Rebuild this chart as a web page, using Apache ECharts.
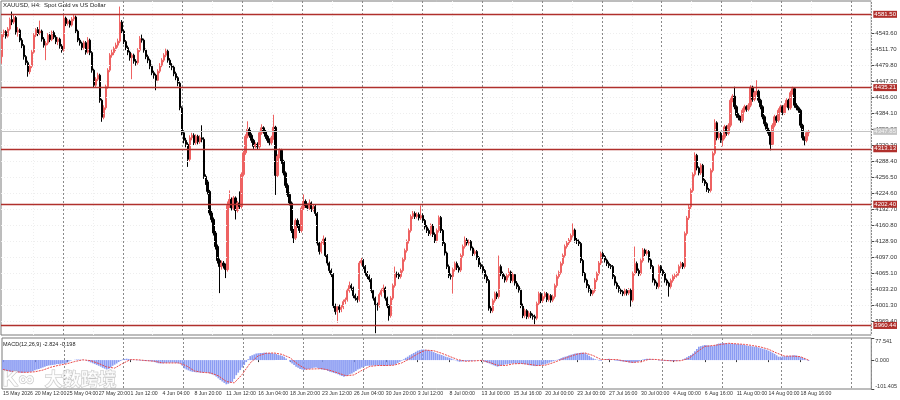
<!DOCTYPE html>
<html>
<head>
<meta charset="utf-8">
<title>XAUUSD H4</title>
<script src="https://cdn.jsdelivr.net/npm/echarts@6.0.0/dist/echarts.min.js"></script>
<style>html,body{margin:0;padding:0;background:#fff}#main{width:900px;height:400px}</style>
</head>
<body>
<div id="main"></div>
<script>
// right axis price labels
var priceTicks = [3969.4, 4001.3, 4033.2, 4065.1, 4097.0, 4128.9, 4160.8, 4192.7, 4224.6, 4256.5,
    4288.4, 4320.3, 4352.2, 4384.1, 4416.0, 4447.9, 4479.8, 4511.7, 4543.6];
// horizontal levels drawn in red
var levelLines = [4581.50, 4435.21, 4313.13, 4202.40, 3960.44];
var lastPrice = 4347.85;
var macdTicks = [-101.405, 0, 77.541];
// one time label every 16 bars
var timeLabels = ['15 May 2026', '20 May 12:00', '25 May 04:00', '27 May 20:00', '1 Jun 12:00', '4 Jun 04:00',
    '8 Jun 20:00', '11 Jun 12:00', '16 Jun 04:00', '18 Jun 20:00', '23 Jun 12:00', '26 Jun 04:00',
    '30 Jun 20:00', '3 Jul 12:00', '8 Jul 00:00', '13 Jul 00:00', '15 Jul 16:00', '20 Jul 00:00',
    '23 Jul 00:00', '27 Jul 16:00', '30 Jul 00:00', '4 Aug 00:00', '6 Aug 16:00', '11 Aug 00:00',
    '14 Aug 00:00', '18 Aug 16:00'];
// bar index where a new week starts (period separators)
var weekStarts = [31, 61, 91, 121, 151, 181, 211, 241, 271, 301, 331, 361, 391, 426];
var faintCols = [16, 46, 76, 106, 136, 166, 196, 226, 256, 286, 316, 346, 376, 406];

// candles: [open, close, low, high]
var bars1 = [
[4497,4541,4483,4546],[4541,4547,4536,4551],[4547,4538,4533,4550],[4538,4552,4535,4556],[4552,4571,4549,4575],
[4571,4566,4560,4587],[4566,4575,4562,4580],[4575,4546,4541,4578],[4546,4550,4537,4556],[4550,4530,4526,4553],
[4530,4519,4514,4534],[4519,4497,4491,4522],[4497,4485,4480,4500],[4485,4467,4457,4489],[4467,4478,4462,4481],
[4478,4506,4474,4510],[4506,4540,4503,4544],[4540,4551,4536,4554],[4551,4543,4538,4556],[4543,4548,4540,4569],
[4548,4532,4527,4551],[4532,4520,4515,4536],[4520,4524,4490,4528],[4524,4540,4520,4544],[4540,4531,4526,4545],
[4531,4545,4528,4549],[4545,4536,4532,4549],[4536,4527,4522,4540],[4527,4532,4520,4536],[4532,4518,4513,4535],
[4518,4510,4505,4522],[4510,4574,4507,4580],[4574,4563,4558,4577],[4563,4568,4559,4572],[4568,4560,4555,4571],
[4560,4572,4557,4576],[4572,4576,4568,4581],[4576,4548,4544,4579],[4548,4530,4526,4551],[4530,4524,4519,4534],
[4524,4515,4510,4527],[4515,4525,4511,4529],[4525,4506,4501,4528],[4506,4530,4503,4536],[4530,4505,4500,4533],
[4505,4470,4465,4508],[4470,4440,4436,4473],[4440,4452,4436,4456],[4452,4460,4447,4465],[4460,4410,4405,4463],
[4410,4376,4367,4413],[4376,4395,4372,4400],[4395,4437,4391,4441],[4437,4470,4433,4474],[4470,4500,4466,4504],
[4500,4505,4495,4511],[4505,4513,4500,4517],[4513,4520,4508,4525],[4520,4528,4515,4533],[4528,4566,4524,4597],
[4566,4548,4543,4570],[4548,4527,4522,4551],[4527,4515,4510,4530],[4515,4506,4500,4519],[4506,4495,4489,4509],
[4495,4500,4452,4504],[4500,4488,4483,4503],[4488,4485,4479,4492],[4485,4510,4481,4514],[4510,4533,4506,4538],
[4533,4530,4525,4541],[4530,4510,4505,4533],[4510,4497,4492,4513],[4497,4490,4484,4501],[4490,4478,4472,4493],
[4478,4465,4460,4481],[4465,4460,4453,4469],[4460,4450,4430,4463],[4450,4468,4446,4472],[4468,4480,4464,4484],
[4480,4490,4476,4494],[4490,4500,4486,4504],[4500,4508,4496,4513],[4508,4490,4485,4511],[4490,4480,4475,4494],
[4480,4476,4470,4484],[4476,4463,4458,4479],[4463,4455,4450,4467],[4455,4444,4438,4458],[4444,4395,4390,4447],
[4395,4345,4340,4398],[4345,4330,4324,4350],[4330,4322,4316,4335],[4322,4292,4277,4326],[4292,4335,4288,4340],
[4335,4340,4330,4345],[4340,4325,4320,4344],[4325,4338,4321,4342],[4338,4327,4322,4341],[4327,4335,4323,4340]
];
var bars2 = [
[4335,4332,4326,4360],[4332,4258,4253,4336],[4258,4247,4241,4262],[4247,4228,4222,4251],[4228,4185,4180,4231],
[4185,4172,4166,4189],[4172,4145,4140,4176],[4145,4118,4112,4149],[4118,4090,4084,4122],[4090,4078,4025,4094],
[4078,4085,4072,4090],[4085,4080,4074,4089],[4080,4072,4055,4084],[4072,4200,4068,4208],[4200,4212,4195,4230],
[4212,4195,4190,4216],[4195,4215,4191,4219],[4215,4190,4172,4218],[4190,4205,4186,4209],[4205,4198,4193,4228],
[4198,4262,4194,4266],[4262,4305,4258,4309],[4305,4338,4301,4342],[4338,4352,4334,4368],[4352,4340,4335,4356],
[4340,4330,4325,4344],[4330,4318,4313,4333],[4318,4322,4314,4326],[4322,4317,4312,4326],[4317,4345,4313,4349],
[4345,4355,4341,4362],[4355,4348,4343,4358],[4348,4338,4333,4351],[4338,4330,4325,4341],[4330,4325,4320,4334],
[4325,4335,4321,4339],[4335,4356,4331,4381],[4356,4260,4221,4359],[4260,4298,4256,4302],[4298,4310,4294,4314],
[4310,4288,4283,4313],[4288,4265,4260,4291],[4265,4240,4235,4268],[4240,4222,4217,4244],[4222,4205,4200,4226],
[4205,4150,4145,4208],[4150,4135,4125,4153],[4135,4170,4131,4174],[4170,4160,4155,4174],[4160,4150,4145,4163],
[4150,4195,4146,4199],[4195,4208,4191,4222],[4208,4200,4195,4212],[4200,4195,4190,4204],[4195,4205,4191,4212],
[4205,4192,4187,4208],[4192,4198,4188,4202],[4198,4184,4179,4201],[4184,4125,4120,4187],[4125,4108,4102,4128],
[4108,4125,4104,4129],[4125,4133,4121,4140],[4133,4100,4095,4136],[4100,4085,4080,4103],[4085,4070,4065,4088],
[4070,4062,4057,4074],[4062,4000,3995,4065],[4000,3988,3982,4004],[3988,3998,3966,4002],[3998,3992,3986,4002],
[3992,3997,3987,4001],[3997,4008,3993,4012],[4008,4012,4003,4016],[4012,4030,4008,4034],[4030,4040,4026,4048],
[4040,4035,4030,4044],[4035,4020,4015,4038],[4020,4015,4010,4024],[4015,4012,4006,4019],[4012,4085,4008,4089],
[4085,4090,4080,4096],[4090,4078,4073,4093],[4078,4065,4060,4081],[4065,4058,4053,4069],[4058,4052,4047,4062],
[4052,4030,4025,4055],[4030,4015,4010,4033],[4015,4002,3945,4018],[4002,4000,3990,4006],[4000,4022,3996,4026],
[4022,4030,4018,4034],[4030,4035,4026,4042],[4035,4015,4010,4038],[4015,4000,3995,4018],[4000,3980,3970,4003],
[3980,4015,3976,4019],[4015,4040,4011,4044],[4040,4064,4036,4078],[4064,4062,4056,4068],[4062,4058,4053,4066]
];
var bars3 = [
[4058,4070,4054,4074],[4070,4092,4066,4096],[4092,4110,4088,4114],[4110,4128,4106,4132],[4128,4150,4124,4154],
[4150,4178,4146,4182],[4178,4184,4173,4189],[4184,4178,4173,4188],[4178,4182,4174,4186],[4182,4175,4170,4186],
[4175,4180,4171,4200],[4180,4170,4165,4184],[4170,4157,4152,4173],[4157,4150,4145,4161],[4150,4144,4139,4154],
[4144,4160,4140,4164],[4160,4142,4137,4163],[4142,4130,4125,4146],[4130,4150,4126,4154],[4150,4176,4146,4180],
[4176,4150,4145,4179],[4150,4124,4119,4153],[4124,4105,4100,4127],[4105,4078,4073,4108],[4078,4060,4055,4082],
[4060,4058,4052,4064],[4058,4072,4024,4076],[4072,4084,4068,4088],[4084,4076,4071,4088],[4076,4071,4066,4080],
[4071,4100,4067,4104],[4100,4118,4096,4122],[4118,4131,4114,4138],[4131,4125,4120,4135],[4125,4128,4120,4132],
[4128,4115,4110,4131],[4115,4104,4099,4118],[4104,4108,4100,4112],[4108,4096,4091,4111],[4096,4082,4077,4099],
[4082,4078,4073,4086],[4078,4070,4065,4082],[4070,4058,4053,4073],[4058,4050,4045,4062],[4050,3995,3990,4053],
[3995,3990,3985,3999],[3990,4010,3986,4014],[4010,4024,4006,4028],[4024,4018,4013,4028],[4018,4078,4014,4100],
[4078,4064,4059,4082],[4064,4058,4053,4068],[4058,4051,4046,4062],[4051,4060,4047,4064],[4060,4067,4056,4075],
[4067,4050,4045,4070],[4050,4062,4046,4066],[4062,4045,4040,4065],[4045,4038,4033,4049],[4038,4031,4026,4042],
[4031,4000,3995,4034],[4000,3980,3975,4004],[3980,3990,3976,3994],[3990,3978,3973,3993],[3978,3985,3974,3989],
[3985,3980,3975,3989],[3980,3978,3972,3984],[3978,3975,3963,3982],[3975,4004,3971,4008],[4004,4024,4000,4028],
[4024,4010,4005,4027],[4010,4018,4006,4022],[4018,4024,4014,4028],[4024,4012,4007,4027],[4012,4020,4008,4024],
[4020,4011,4006,4023],[4011,4018,4007,4022],[4018,4040,4014,4044],[4040,4058,4036,4062],[4058,4066,4054,4070],
[4066,4084,4062,4088],[4084,4100,4080,4104],[4100,4118,4096,4122],[4118,4125,4114,4129],[4125,4131,4121,4135],
[4131,4140,4127,4144],[4140,4151,4136,4164],[4151,4131,4126,4154],[4131,4128,4123,4135],[4128,4124,4119,4132],
[4124,4090,4085,4127],[4090,4064,4059,4093],[4064,4051,4046,4067],[4051,4040,4035,4054],[4040,4031,4026,4043],
[4031,4024,4019,4034],[4024,4030,4020,4034],[4030,4051,4026,4055],[4051,4064,4047,4068],[4064,4085,4060,4089]
];
var bars4 = [
[4085,4104,4081,4108],[4104,4098,4093,4108],[4098,4091,4086,4101],[4091,4084,4079,4094],[4084,4080,4075,4088],
[4080,4078,4073,4083],[4078,4058,4053,4081],[4058,4045,4040,4061],[4045,4038,4033,4048],[4038,4031,4026,4041],
[4031,4028,4023,4034],[4028,4024,4019,4031],[4024,4030,4020,4034],[4030,4025,4020,4033],[4025,4031,4021,4035],
[4031,4011,3998,4034],[4011,4064,4007,4068],[4064,4084,4060,4118],[4084,4070,4065,4088],[4070,4064,4059,4074],
[4064,4090,4060,4094],[4090,4111,4086,4115],[4111,4104,4099,4114],[4104,4108,4100,4112],[4108,4091,4086,4111],
[4091,4078,4073,4094],[4078,4051,4046,4081],[4051,4045,4040,4054],[4045,4038,4033,4048],[4038,4078,4034,4082],
[4078,4070,4065,4081],[4070,4064,4059,4073],[4064,4051,4046,4067],[4051,4045,4040,4054],[4045,4038,4018,4048],
[4038,4050,4034,4054],[4050,4058,4046,4062],[4058,4060,4053,4064],[4060,4064,4056,4068],[4064,4078,4060,4082],
[4078,4084,4074,4088],[4084,4078,4073,4087],[4078,4144,4074,4148],[4144,4175,4140,4179],[4175,4197,4171,4201],
[4197,4230,4193,4234],[4230,4262,4226,4266],[4262,4300,4258,4306],[4300,4275,4270,4303],[4275,4265,4260,4278],
[4265,4280,4261,4284],[4280,4250,4245,4283],[4250,4244,4239,4253],[4244,4232,4227,4247],[4232,4230,4225,4235],
[4230,4270,4226,4274],[4270,4304,4266,4308],[4304,4365,4300,4372],[4365,4335,4330,4368],[4335,4344,4331,4348],
[4344,4330,4325,4347],[4330,4336,4318,4340],[4336,4357,4332,4361],[4357,4344,4339,4360],[4344,4360,4340,4364],
[4360,4410,4356,4414],[4410,4418,4406,4422],[4418,4397,4392,4437],[4397,4380,4375,4400],[4380,4375,4370,4384],
[4375,4370,4365,4379],[4370,4390,4366,4394],[4390,4397,4386,4401],[4397,4392,4387,4400],[4392,4400,4388,4404],
[4400,4436,4396,4440],[4436,4412,4407,4439],[4412,4425,4408,4429],[4425,4428,4420,4450],[4428,4410,4405,4431],
[4410,4397,4392,4413],[4397,4377,4372,4400],[4377,4363,4358,4380],[4363,4352,4347,4366],[4352,4344,4339,4355],
[4344,4322,4310,4347],[4322,4360,4318,4364],[4360,4377,4356,4381],[4377,4370,4365,4380],[4370,4390,4366,4394],
[4390,4397,4386,4401],[4397,4385,4380,4400],[4385,4400,4381,4404],[4400,4410,4396,4414],[4410,4395,4390,4413],
[4395,4425,4391,4429],[4425,4433,4421,4437],[4433,4400,4395,4436],[4400,4395,4390,4404],[4395,4390,4385,4398],
[4390,4360,4355,4393],[4360,4335,4330,4363],[4335,4330,4320,4338],[4330,4345,4326,4349],[4345,4347.85,4338,4352]
];

// MACD main (histogram), one value per bar
var macdMain = [
-35,-36,-38,-39,-41,-42,-42,-43,-43,-44, -44,-43,-43,-42,-41,-39,-36,-33,-31,-29,
-26,-23,-21,-19,-18,-17,-16,-14,-14,-13, -12,-12,-9,-5,-2,0,1,2,2,1,
1,0,-2,-5,-8,-11,-14,-17,-20,-23, -27,-30,-33,-31,-26,-20,-16,-12,-7,-3,
2,4,5,4,3,1,0,-1,-1,-2, -2,-3,-3,-3,-4,-5,-7,-9,-11,-12,
-11,-10,-10,-9,-9,-9,-9,-10,-11,-12, -20,-29,-33,-36,-39,-41,-42,-43,-43,-44,
-44,-43,-43,-45,-48,-50,-53,-58,-64,-70, -75,-80,-85,-83,-79,-76,-66,-53,-44,-35,
-26,-17,-7,3,14,17,20,23,24,25, 25,26,26,25,25,24,23,21,19,17,
15,12,6,0,-6,-12,-17,-23,-27,-31, -33,-35,-33,-31,-30,-29,-27,-26,-28,-31,
-33,-34,-35,-38,-41,-43,-45,-47,-50,-53, -56,-58,-56,-53,-50,-47,-43,-38,-33,-30,
-26,-23,-21,-20,-20,-19,-19,-19,-19,-19, -19,-20,-20,-19,-18,-18,-17,-14,-10,-6,
-2,3,8,12,17,21,25,29,33,35, 37,37,36,35,33,31,28,25,22,20,
18,15,12,10,8,5,2,-1,-4,-6, -5,-4,-4,-3,-3,-3,-2,-1,-1,0,
-2,-4,-7,-10,-12,-15,-18,-21,-23,-21, -19,-17,-15,-14,-13,-12,-12,-12,-12,-13,
-13,-14,-14,-16,-18,-19,-20,-21,-20,-19, -17,-16,-15,-12,-9,-6,-4,-2,1,4,
7,10,12,14,17,19,21,23,24,25, 26,26,24,20,15,10,6,3,1,-1,
-2,0,2,4,5,3,1,-1,-2,-3, -4,-5,-6,-7,-8,-9,-9,-8,-7,-4,
-1,2,4,5,4,3,2,1,0,-1, -1,-2,-2,-2,-3,-3,-3,-3,-2,-1,
0,2,6,10,14,18,23,31,39,47, 49,51,53,52,51,50,49,52,55,58,
59,60,59,58,58,58,57,57,56,56, 55,54,53,51,50,49,48,47,46,44,
42,40,38,36,33,30,26,22,17,12, 12,13,13,14,14,15,16,17,16,14,
11,8,5,1,-2.824
];
// MACD signal line, read at points along the red dotted line: [bar, value]
var macdSignal = [
[0,-33],[4,-39],[8,-42],[12,-43],[16,-41],[20,-35],[24,-25],[28,-18],[32,-13],[36,-5],[40,1],[44,-2],
[48,-12],[52,-24],[56,-28],[60,-12],[64,2],[68,1],[72,-2],[76,-4],[80,-10],[84,-10],[88,-10],[92,-20],
[96,-38],[100,-43],[104,-45],[108,-55],[112,-75],[116,-80],[120,-50],[124,-10],[128,15],[132,24],[136,25],
[140,20],[144,8],[148,-15],[152,-32],[156,-31],[160,-30],[164,-36],[168,-45],[172,-55],[176,-52],[180,-36],
[184,-22],[188,-19],[192,-19],[196,-18],[200,-10],[204,5],[208,22],[212,35],[216,33],[220,24],[224,13],
[228,2],[232,-4],[236,-3],[240,-1],[244,-8],[248,-18],[252,-19],[256,-13],[260,-12],[264,-15],[268,-19],
[272,-18],[276,-9],[280,2],[284,12],[288,21],[292,25],[296,16],[300,2],[304,2],[308,2],[312,-4],[316,-8],
[320,-6],[324,3],[328,2],[332,-1],[336,-3],[340,-2],[344,6],[348,28],[352,48],[356,51],[360,55],[364,59],
[368,57],[372,55],[376,51],[380,46],[384,38],[388,25],[392,14],[396,14],[400,12],[404,-0.198]
];

var FONT = "'Liberation Sans', Arial, sans-serif";
var SLOTS = 436; // bars plus empty chart shift on the right
var slots = [];
for (var s = 0; s < SLOTS; s++) slots.push(s);
var candles = bars1.concat(bars2, bars3, bars4);

function inList(list) { return function (i) { return list.indexOf(i) >= 0; }; }
function everyLabel(i) { return i % 16 === 0 && i / 16 < timeLabels.length; }

var levelData = levelLines.map(function (v) {
    return { yAxis: v, label: { formatter: v.toFixed(2) } };
});
levelData.push({
    yAxis: lastPrice,
    lineStyle: { color: '#c4c4c4', width: 1, type: 'solid' },
    label: { formatter: lastPrice.toFixed(2), backgroundColor: '#c4c4c4', color: '#f4f4f4' }
});

var chart = echarts.init(document.getElementById('main'), null, { renderer: 'canvas' });
chart.setOption({
    animation: false,
    backgroundColor: '#fff',
    textStyle: { fontFamily: FONT },
    title: [
        { text: 'XAUUSD, H4:  Spot Gold vs US Dollar', left: 3, top: 2, padding: 0,
          textStyle: { fontSize: 6, fontWeight: 'normal', color: '#222', fontFamily: FONT } },
        { text: 'MACD(12,26,9) -2.824 -0.198', left: 3, top: 341, padding: 0,
          textStyle: { fontSize: 5.5, fontWeight: 'normal', color: '#222', fontFamily: FONT } }
    ],
    grid: [
        { left: 1, right: 27, top: 1, bottom: 65, show: true, borderColor: '#7a7a7a', borderWidth: 1 },
        { left: 1, right: 27, top: 338, bottom: 11, show: true, borderColor: '#7a7a7a', borderWidth: 1 }
    ],
    xAxis: [
        { type: 'category', gridIndex: 0, data: slots, axisLine: { show: false }, axisTick: { show: false },
          axisLabel: { show: false },
          splitLine: { show: true, interval: inList(weekStarts), lineStyle: { color: '#8a8a8a', type: [2, 2], width: 1 } } },
        { type: 'category', gridIndex: 1, data: slots,
          axisLine: { show: false },
          axisTick: { show: true, interval: everyLabel, alignWithLabel: true, length: 2, lineStyle: { color: '#333' } },
          axisLabel: { interval: everyLabel, align: 'left', margin: 2, fontSize: 5.2, color: '#333', fontFamily: FONT,
                       formatter: function (v, i) { return timeLabels[i / 16]; } },
          splitLine: { show: true, interval: inList(weekStarts), lineStyle: { color: '#8a8a8a', type: [2, 2], width: 1 } } },
        { type: 'category', gridIndex: 0, data: slots, show: true, axisLine: { show: false }, axisTick: { show: false },
          axisLabel: { show: false },
          splitLine: { show: true, interval: inList(faintCols), lineStyle: { color: '#efefef', type: [1, 2], width: 1 } } }
    ],
    yAxis: [
        { type: 'value', gridIndex: 0, position: 'right', min: 3941.4, max: 4608.1, scale: true,
          axisLine: { show: false },
          axisTick: { show: true, customValues: priceTicks, length: 3, lineStyle: { color: '#444' } },
          axisLabel: { customValues: priceTicks, margin: 4, fontSize: 6, color: '#333', fontFamily: FONT,
                       formatter: function (v) { return v.toFixed(2); } },
          splitLine: { show: false } },
        { type: 'value', gridIndex: 1, position: 'right', min: -101.405, max: 77.541,
          axisLine: { show: false },
          axisTick: { show: true, customValues: macdTicks, length: 3, lineStyle: { color: '#444' } },
          axisLabel: { customValues: macdTicks, margin: 4, fontSize: 5.5, color: '#333', fontFamily: FONT,
                       verticalAlignMaxLabel: 'top', verticalAlignMinLabel: 'bottom',
                       formatter: function (v) { return v.toFixed(3); } },
          splitLine: { show: false } }
    ],
    series: [
        { type: 'line', xAxisIndex: 0, yAxisIndex: 0, data: [], silent: true,
          markLine: { silent: true, symbol: ['none', 'none'], label: { show: false },
                      lineStyle: { color: '#eeeeee', type: [1, 2], width: 1 },
                      data: priceTicks.map(function (v) { return { yAxis: v }; }) } },
        { type: 'candlestick', xAxisIndex: 0, yAxisIndex: 0, data: candles, barWidth: 1.7,
          itemStyle: { color: '#ee6262', color0: '#000', borderColor: '#ee6262', borderColor0: '#000', borderWidth: 1 },
          markLine: { silent: true, symbol: ['none', 'none'], precision: 2,
                      lineStyle: { color: '#b0302c', width: 1.3, type: 'solid' },
                      label: { show: true, position: 'end', distance: 2, fontSize: 6, color: '#fff',
                               backgroundColor: '#b0302c', padding: [1, 1, 0, 1], fontFamily: FONT },
                      data: levelData } },
        { type: 'bar', xAxisIndex: 1, yAxisIndex: 1, data: macdMain, barWidth: 1.7,
          itemStyle: { color: '#8b9cf3' } },
        { type: 'line', xAxisIndex: 1, yAxisIndex: 1, data: macdSignal, symbol: 'none', connectNulls: true,
          lineStyle: { color: '#ea4a4a', width: 1, type: [2, 1] } }
    ],
    graphic: [
        { type: 'text', left: 2, top: 368, z: 100, silent: true,
          style: { text: 'K∞', fontSize: 22, fontWeight: 'bold', fontFamily: FONT,
                   fill: 'rgba(255,255,255,0.75)', stroke: 'rgba(170,170,170,0.7)', lineWidth: 1 } },
        { type: 'text', left: 44, top: 370, z: 100, silent: true,
          style: { text: '大数跨境', fontSize: 18, fontWeight: 'bold', fontFamily: "'Noto Sans CJK SC', sans-serif",
                   fill: 'rgba(255,255,255,0.75)', stroke: 'rgba(170,170,170,0.7)', lineWidth: 1 } }
    ]
});
</script>
</body>
</html>
